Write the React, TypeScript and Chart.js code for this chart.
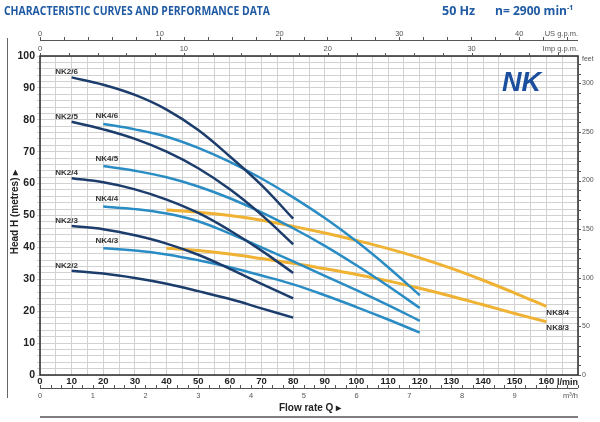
import React, { useEffect, useRef } from 'react';
import { Chart, registerables } from 'chart.js';

Chart.register(...registerables);

// ---- data (flow in l/min, head in metres) ----
const flowNK2 = [10, 20, 30, 40, 50, 60, 70, 80];
const headNK2_6 = [93.3, 91, 87.8, 83.2, 76.8, 68.5, 59.5, 49];
const headNK2_5 = [79.4, 77, 74, 70, 64.8, 58.2, 50.2, 41];
const headNK2_4 = [61.7, 60.4, 58.2, 55, 50.8, 45.3, 39, 32];
const headNK2_3 = [46.7, 45.7, 43.8, 41.2, 37.7, 33.3, 28.6, 24];
const headNK2_2 = [32.7, 31.8, 30.4, 28.6, 26.3, 23.8, 20.9, 18];

const flowNK4 = [20, 30, 40, 50, 60, 70, 80, 90, 100, 110, 120];
const headNK4_6 = [78.7, 77, 74.7, 71.2, 66.8, 61.6, 55.7, 49.2, 41.9, 33.8, 25];
const headNK4_5 = [65.5, 64, 62, 59.1, 55.4, 51, 46, 40.5, 34.4, 27.9, 21];
const headNK4_4 = [52.8, 52, 50.6, 48.2, 44.3, 40, 35.6, 31.1, 26.6, 21.9, 17];
const headNK4_3 = [39.7, 39, 37.8, 36, 33.8, 31.2, 28.4, 25, 21.3, 17.4, 13.3];

const flowNK8 = [40, 50, 60, 70, 80, 90, 100, 110, 120, 130, 140, 150, 160];
const headNK8_4 = [51.7, 51, 50, 48.5, 46.6, 44.5, 42.2, 39.6, 36.7, 33.4, 29.7, 25.7, 21.5];
const headNK8_3 = [39.7, 39, 37.9, 36.5, 35, 33.3, 31.5, 29.5, 27.2, 24.7, 22, 19.3, 16.7];

// secondary axis tick labels
const usGpmLabels = [0, 10, 20, 30, 40];
const impGpmLabels = [0, 10, 20, 30];
const m3hLabels = [0, 1, 2, 3, 4, 5, 6, 7, 8, 9];
const feetLabels = [0, 50, 100, 150, 200, 250, 300];

const LPM_PER_USGPM = 3.785;
const LPM_PER_IMPGPM = 4.546;
const LPM_PER_M3H = 1000 / 60;
const M_PER_FT = 0.3048;

const NAVY = '#1c3c6c';
const LIGHT = '#2a8cc4';
const ORANGE = '#f0b232';

const FONT = '"Liberation Sans"';

const toPts = (xs: number[], ys: number[]) => xs.map((x, i) => ({ x, y: ys[i] }));

const series = [
  { label: 'NK2/6', xs: flowNK2, ys: headNK2_6, color: NAVY, group: 2 },
  { label: 'NK2/5', xs: flowNK2, ys: headNK2_5, color: NAVY, group: 2 },
  { label: 'NK2/4', xs: flowNK2, ys: headNK2_4, color: NAVY, group: 2 },
  { label: 'NK2/3', xs: flowNK2, ys: headNK2_3, color: NAVY, group: 2 },
  { label: 'NK2/2', xs: flowNK2, ys: headNK2_2, color: NAVY, group: 2 },
  { label: 'NK4/6', xs: flowNK4, ys: headNK4_6, color: LIGHT, group: 4 },
  { label: 'NK4/5', xs: flowNK4, ys: headNK4_5, color: LIGHT, group: 4 },
  { label: 'NK4/4', xs: flowNK4, ys: headNK4_4, color: LIGHT, group: 4 },
  { label: 'NK4/3', xs: flowNK4, ys: headNK4_3, color: LIGHT, group: 4 },
  { label: 'NK8/4', xs: flowNK8, ys: headNK8_4, color: ORANGE, group: 8 },
  { label: 'NK8/3', xs: flowNK8, ys: headNK8_3, color: ORANGE, group: 8 },
];

const overlay = {
  id: 'overlay',
  afterDraw(chart: any) {
    const { ctx, chartArea: a, scales } = chart;
    const xs = scales.x;
    const ys = scales.y;
    ctx.save();

    // titles
    ctx.fillStyle = '#1f5aa3';
    ctx.textBaseline = 'alphabetic';
    ctx.textAlign = 'left';
    ctx.font = 'bold 12.5px "Open Sans"';
    ctx.fillText('CHARACTERISTIC CURVES AND PERFORMANCE DATA', 4, 15, 266);
    ctx.fillText('50 Hz', 442, 15, 36);
    ctx.fillText('n= 2900 min', 495, 15, 72);
    ctx.font = 'bold 7px "Open Sans"';
    ctx.fillText('-1', 567, 10);

    // NK logo
    ctx.fillStyle = '#1b4f9e';
    ctx.font = 'italic 900 27px ' + FONT;
    ctx.fillText('NK', 502, 91, 52);

    // left frame line
    ctx.strokeStyle = '#666';
    ctx.lineWidth = 1;
    ctx.beginPath();
    ctx.moveTo(7.5, 38);
    ctx.lineTo(7.5, 398);
    ctx.stroke();

    // plot frame
    ctx.strokeStyle = '#2b2b2b';
    ctx.lineWidth = 1.5;
    ctx.strokeRect(a.left, a.top, a.right - a.left, a.bottom - a.top);

    const minorColor = '#555';
    const labelFont = '7.5px ' + FONT;

    // top axes
    const topAxis = (factor: number, step: number, labels: number[], lineY: number, baseY: number, name: string, drawLine: boolean) => {
      ctx.strokeStyle = minorColor;
      ctx.lineWidth = 1;
      if (drawLine) {
        ctx.beginPath();
        ctx.moveTo(a.left, lineY + 0.5);
        ctx.lineTo(a.right, lineY + 0.5);
        ctx.stroke();
      }
      const maxU = xs.max / factor;
      ctx.beginPath();
      for (let u = 0; u <= maxU + 1e-9; u += step) {
        const px = Math.round(xs.getPixelForValue(u * factor)) + 0.5;
        ctx.moveTo(px, lineY);
        ctx.lineTo(px, lineY - 3);
      }
      ctx.stroke();
      ctx.fillStyle = '#555';
      ctx.font = labelFont;
      ctx.textAlign = 'center';
      labels.forEach((u) => {
        ctx.fillText(String(u), xs.getPixelForValue(u * factor), baseY);
      });
      ctx.textAlign = 'right';
      ctx.fillText(name, a.right, baseY);
    };
    topAxis(LPM_PER_USGPM, 2, usGpmLabels, 40, 36, 'US g.p.m.', true);
    topAxis(LPM_PER_IMPGPM, 2, impGpmLabels, a.top, 51, 'Imp g.p.m.', false);

    // m3/h axis
    const m3Y = 388;
    ctx.strokeStyle = minorColor;
    ctx.lineWidth = 1;
    ctx.beginPath();
    ctx.moveTo(a.left, m3Y + 0.5);
    ctx.lineTo(a.right, m3Y + 0.5);
    const maxM3 = xs.max / LPM_PER_M3H;
    for (let u = 0; u <= maxM3 + 1e-9; u += 0.2) {
      const px = Math.round(xs.getPixelForValue(u * LPM_PER_M3H)) + 0.5;
      ctx.moveTo(px, m3Y);
      ctx.lineTo(px, m3Y - 3);
    }
    ctx.stroke();
    ctx.fillStyle = '#555';
    ctx.font = labelFont;
    ctx.textAlign = 'center';
    m3hLabels.forEach((u) => ctx.fillText(String(u), xs.getPixelForValue(u * LPM_PER_M3H), 398));
    ctx.textAlign = 'right';
    ctx.fillText('m³/h', a.right, 398);

    // l/min unit
    ctx.fillStyle = '#222';
    ctx.font = 'bold 9.5px ' + FONT;
    ctx.textAlign = 'right';
    ctx.fillText('l/min', a.right, 385, 21);

    // feet axis (right)
    ctx.strokeStyle = minorColor;
    ctx.beginPath();
    const maxFt = ys.max / M_PER_FT;
    for (let f = 0; f <= maxFt + 1e-9; f += 10) {
      const py = Math.round(ys.getPixelForValue(f * M_PER_FT)) + 0.5;
      ctx.moveTo(a.right, py);
      ctx.lineTo(a.right + 3, py);
    }
    ctx.stroke();
    ctx.fillStyle = '#555';
    ctx.font = '7px ' + FONT;
    ctx.textAlign = 'left';
    ctx.textBaseline = 'middle';
    feetLabels.forEach((f) => ctx.fillText(String(f), a.right + 4, ys.getPixelForValue(f * M_PER_FT)));
    ctx.fillText('feet', a.right + 4, a.top + 3);

    // axis titles
    ctx.fillStyle = '#222';
    ctx.font = 'bold 10px ' + FONT;
    ctx.textAlign = 'center';
    ctx.textBaseline = 'middle';
    ctx.fillText('Flow rate Q ▸', 310, 408);
    ctx.save();
    ctx.translate(15, 212);
    ctx.rotate(-Math.PI / 2);
    ctx.fillText('Head H (metres) ▸', 0, 0);
    ctx.restore();

    // bottom rule
    ctx.strokeStyle = '#555';
    ctx.lineWidth = 1.5;
    ctx.beginPath();
    ctx.moveTo(a.left, 417);
    ctx.lineTo(a.right, 417);
    ctx.stroke();

    // curve labels
    ctx.fillStyle = '#333';
    ctx.font = 'bold 8px ' + FONT;
    chart.data.datasets.forEach((ds: any, i: number) => {
      const meta = chart.getDatasetMeta(i);
      const g = series[i].group;
      if (g === 8) {
        const last = meta.data[meta.data.length - 1];
        ctx.textAlign = 'left';
        ctx.textBaseline = 'top';
        ctx.fillText(ds.label, last.x, last.y + 2.5);
      } else {
        const first = meta.data[0];
        ctx.textAlign = 'center';
        ctx.textBaseline = 'alphabetic';
        const dx = g === 2 ? -5 : 3.5;
        const dy = g === 2 ? -3 : -5.5;
        ctx.fillText(ds.label, first.x + dx, first.y + dy);
      }
    });

    ctx.restore();
  },
};

export default function App() {
  const ref = useRef<HTMLCanvasElement | null>(null);

  useEffect(() => {
    if (!ref.current) return;
    const chart = new Chart(ref.current, {
      type: 'line',
      data: {
        datasets: series.map((s) => ({
          label: s.label,
          data: toPts(s.xs, s.ys),
          borderColor: s.color,
          borderWidth: s.group === 8 ? 3 : 2.5,
          pointRadius: 0,
          fill: false,
          tension: 0.4,
        })),
      },
      options: {
        animation: false,
        responsive: false,
        maintainAspectRatio: false,
        layout: { padding: { top: 56, right: 22, bottom: 0, left: 0 } },
        plugins: {
          legend: { display: false },
          tooltip: { enabled: false },
          title: { display: false },
        },
        scales: {
          x: {
            type: 'linear',
            min: 0,
            max: 170,
            afterFit: (s: any) => {
              s.height = 47;
            },
            border: { display: false },
            grid: { color: '#d2d2d2', lineWidth: 1, drawTicks: false },
            ticks: {
              stepSize: 5,
              autoSkip: false,
              maxRotation: 0,
              padding: 1,
              color: '#222',
              font: { family: FONT, size: 9.5, weight: 'bold' },
              callback: (v: any) => (v % 10 === 0 && v <= 160 ? String(v) : ''),
            },
          },
          y: {
            type: 'linear',
            min: 0,
            max: 100,
            afterFit: (s: any) => {
              s.width = 40;
            },
            border: { display: false },
            grid: { color: '#d2d2d2', lineWidth: 1, tickLength: 3 },
            ticks: {
              stepSize: 2,
              autoSkip: false,
              padding: 2,
              color: '#222',
              font: { family: FONT, size: 10.5, weight: 'bold' },
              callback: (v: any) => (v % 10 === 0 ? String(v) : ''),
            },
          },
        },
      },
      plugins: [overlay],
    });
    return () => chart.destroy();
  }, []);

  return (
    <div style={{ position: 'fixed', left: 0, top: 0, width: 600, height: 422, background: '#fff' }}>
      <canvas ref={ref} width={600} height={422} style={{ display: 'block', width: 600, height: 422 }} />
    </div>
  );
}
